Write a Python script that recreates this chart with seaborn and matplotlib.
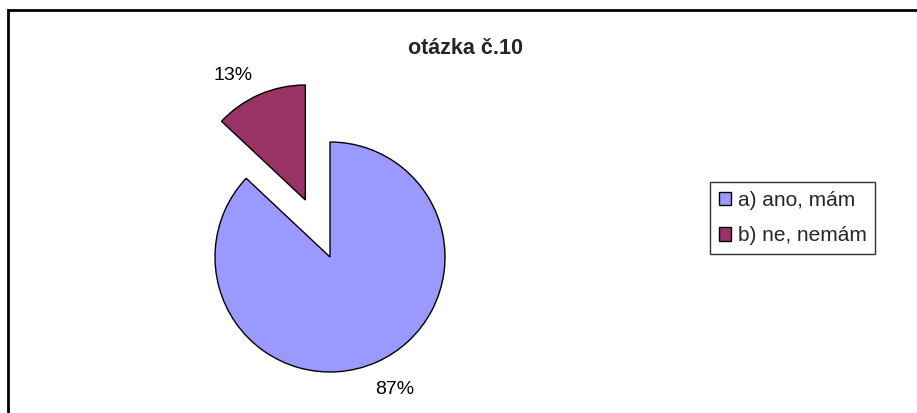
import matplotlib
matplotlib.use("Agg")
import matplotlib.pyplot as plt
from matplotlib.patches import Rectangle
import seaborn as sns

categories = ["a) ano, mám", "b) ne, nemám"]
values = [87, 13]
pct_labels = ["87%", "13%"]
colors = ["#9999FF", "#993366"]
title = "otázka č.10"

sns.set_style("white")
plt.rcParams["font.family"] = ["Liberation Sans", "DejaVu Sans"]

W, H = 917, 413
fig = plt.figure(figsize=(W / 100, H / 100), dpi=100)
fig.patch.set_facecolor("white")

ax = fig.add_axes([0, 0, 1, 1])
R = 115.0
cx, cy = 330.0, H - 257.0
wedges, texts = ax.pie(values, colors=colors, labels=pct_labels, startangle=90,
                       counterclock=False, explode=[0, 0.54], labeldistance=1.26,
                       wedgeprops=dict(edgecolor="black", linewidth=1.0),
                       textprops=dict(fontsize=14, color="black"))
for t in texts:
    t.set_horizontalalignment("center")
    t.set_verticalalignment("center")
# nudge the small-slice label like the original layout
x1, y1 = texts[1].get_position()
texts[1].set_position((x1 - 0.13, y1 - 0.07))
x0, y0 = texts[0].get_position()
texts[0].set_position((x0 + 0.06, y0))
ax.set_aspect("auto")
ax.set_xlim(-cx / R, (W - cx) / R)
ax.set_ylim(-cy / R, (H - cy) / R)
ax.axis("off")

fig.text(466 / W, 1 - 48 / H, title, ha="center", va="center",
         fontsize=15.5, fontweight="bold")

leg = ax.legend(wedges, categories, loc="upper left",
                bbox_to_anchor=(710 / W, 1 - 182 / H), bbox_transform=fig.transFigure,
                frameon=True, fancybox=False, fontsize=15, handlelength=0.6,
                handleheight=0.6, handletextpad=0.3, borderpad=0.42,
                labelspacing=0.8, borderaxespad=0)
leg.get_frame().set_edgecolor("black")
leg.get_frame().set_linewidth(1.0)

fig.patches.append(Rectangle((8 / W, -0.1), 1.2, (H - 10) / H + 0.1,
                             transform=fig.transFigure, fill=False,
                             edgecolor="black", linewidth=2.0))

fig.savefig("out.png", dpi=100, facecolor="white")
